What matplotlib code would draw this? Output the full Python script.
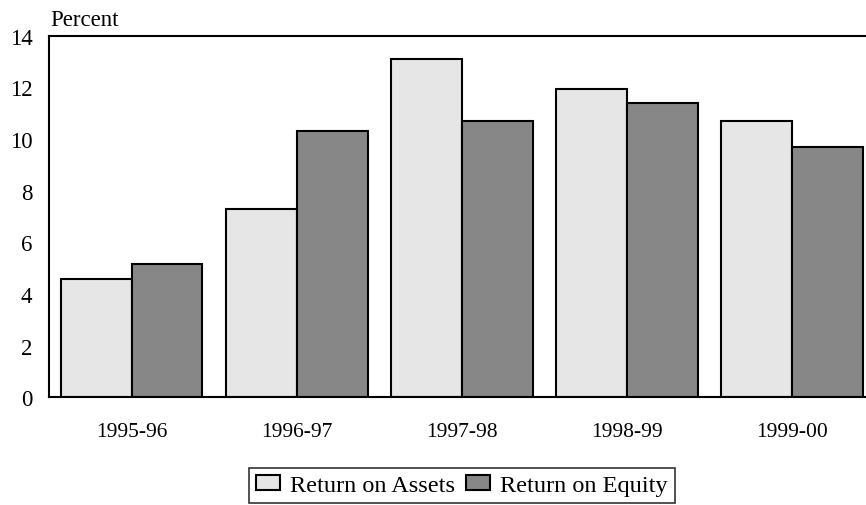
import matplotlib

matplotlib.use("Agg")
import matplotlib.pyplot as plt
import numpy as np

years = ["1995-96", "1996-97", "1997-98", "1998-99", "1999-00"]
return_on_assets = [4.58, 7.29, 13.09, 11.92, 10.68]
return_on_equity = [5.17, 10.30, 10.68, 11.41, 9.68]

plt.rcParams["font.family"] = ["Liberation Serif", "DejaVu Serif"]

fig = plt.figure(figsize=(8.66, 5.06), dpi=100)
ax = fig.add_axes([49 / 866, 1 - 398.3 / 506, 817 / 866, 361.6 / 506])

x = np.arange(len(years))
w = 0.43
ax.bar(x - w / 2, return_on_assets, w, color="#e6e6e6", edgecolor="black",
       linewidth=1.5, label="Return on Assets")
ax.bar(x + w / 2, return_on_equity, w, color="#878787", edgecolor="black",
       linewidth=1.5, label="Return on Equity")

ax.set_xlim(-0.50, 4.45)
ax.set_ylim(0, 14)
ax.set_yticks(range(0, 15, 2))
ax.set_xticks(x)
ax.set_xticklabels(years)
ax.tick_params(axis="both", length=0)
ax.tick_params(axis="y", pad=12, labelsize=16.5)
ax.tick_params(axis="x", pad=18, labelsize=15.5)
ax.spines["right"].set_visible(False)
for s in ["left", "top", "bottom"]:
    ax.spines[s].set_linewidth(1.5)

fig.text(50 / 866, 1 - 20 / 506, "Percent", fontsize=16.5, va="center", ha="left")

leg = fig.legend(loc="center", bbox_to_anchor=(462 / 866, 1 - 486.5 / 506), ncol=2,
                 fontsize=17.5, frameon=True, fancybox=False, edgecolor="black",
                 handlelength=1.0, handleheight=0.6, handletextpad=0.4,
                 columnspacing=0.45, borderpad=0.3, borderaxespad=0)
leg.get_frame().set_linewidth(1.2)

plt.savefig("out.png", dpi=100)
plt.close()
